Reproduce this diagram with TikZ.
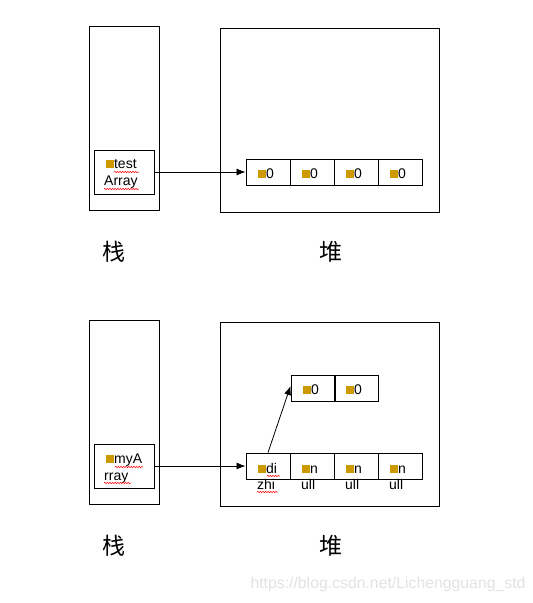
\documentclass[tikz,border=0pt]{standalone}
\usepackage{fontspec}
\setmainfont{Liberation Sans}
\newfontfamily\cjk{Noto Sans CJK SC}
\usetikzlibrary{arrows.meta,decorations.pathmorphing}
\definecolor{bul}{HTML}{CC9900}
\definecolor{wm}{HTML}{E2E2E2}
\newcommand{\sqb}{\textcolor{bul}{\rule[0.3pt]{7.5pt}{7.5pt}}\hspace{0.4pt}}
\tikzset{
  box/.style={draw=black,line width=0.9pt,inner sep=0pt},
  cell/.style={draw=black,line width=0.9pt,minimum width=44pt,minimum height=26pt,inner sep=0pt},
  txt/.style={inner sep=0pt,anchor=base west,font=\fontsize{14}{14}\selectfont},
  cn/.style={inner sep=0pt,font=\cjk\fontsize{23}{23}\selectfont},
  wavy/.style={draw=red,line width=0.5pt,decorate,decoration={snake,amplitude=0.7pt,segment length=2.6pt}},
  ptr/.style={draw=black,line width=0.8pt,-{Latex[length=9pt,width=7pt]}}
}
\begin{document}
\begin{tikzpicture}[x=1pt,y=-1pt]
\useasboundingbox (0,0) rectangle (533,603);
% ---------- top ----------
\node[box,minimum width=70pt,minimum height=184pt] (stack1) at (124,118) {};
\node[box,minimum width=219pt,minimum height=184pt] (heap1) at (329.5,120) {};
\node[box,minimum width=60pt,minimum height=44pt] (var1) at (124,172) {};
\node[txt] (v1a) at (106,168) {\sqb test};
\node[txt] (v1b) at (104,185) {Array};
\draw[wavy] (114,172) -- (139,172);
\draw[wavy] (104,189) -- (139,189);
\node[cell] (a1) at (268,172) {};
\node[cell] (a2) at (312,172) {};
\node[cell] (a3) at (356,172) {};
\node[cell] (a4) at (400,172) {};
\foreach \i in {1,2,3,4}{
  \node[txt] (t\i) at ([xshift=-10pt,yshift=-6pt]a\i.center) {\sqb 0};
}
\draw[ptr] (var1.east) -- (a1.west);
\node[cn] (zhan1) at (114,252) {栈};
\node[cn] (dui1) at (331,252) {堆};
% ---------- bottom ----------
\node[box,minimum width=70pt,minimum height=184pt] (stack2) at (124,412) {};
\node[box,minimum width=219pt,minimum height=184pt] (heap2) at (329.5,414) {};
\node[box,minimum width=60pt,minimum height=44pt] (var2) at (124,466) {};
\node[txt] (v2a) at (106,463) {\sqb myA};
\node[txt] (v2b) at (104,480) {rray};
\draw[wavy] (115,467) -- (143,467);
\draw[wavy] (104,483) -- (131,483);
\node[cell] (b1) at (268,466) {};
\node[cell] (b2) at (312,466) {};
\node[cell] (b3) at (356,466) {};
\node[cell] (b4) at (400,466) {};
\node[txt] (u1a) at (258,473) {\sqb di};
\node[txt] (u1b) at (257,489) {zhi};
\draw[wavy] (267,476) -- (280,476);
\draw[wavy] (257,492) -- (278,492);
\foreach \i in {2,3,4}{
  \node[txt] (u\i a) at ([xshift=-10pt,yshift=-7pt]b\i.center) {\sqb n};
  \node[txt] (u\i b) at ([xshift=-11pt,yshift=-23pt]b\i.center) {ull};
}
\node[cell] (c1) at (313,388) {};
\node[cell] (c2) at (356,388) {};
\foreach \i in {1,2}{
  \node[txt] (s\i) at ([xshift=-10pt,yshift=-6pt]c\i.center) {\sqb 0};
}
\draw[ptr] (var2.east) -- (b1.west);
\draw[ptr] (b1.north) -- ([yshift=2pt]c1.west);
\node[cn] (zhan2) at (114,546) {栈};
\node[cn] (dui2) at (331,546) {堆};
\node[inner sep=0pt,text=wm,font=\fontsize{15.8}{15.8}\selectfont] (wmark) at (388,584) {https://blog.csdn.net/Lichengguang\_std};
\end{tikzpicture}
\end{document}
